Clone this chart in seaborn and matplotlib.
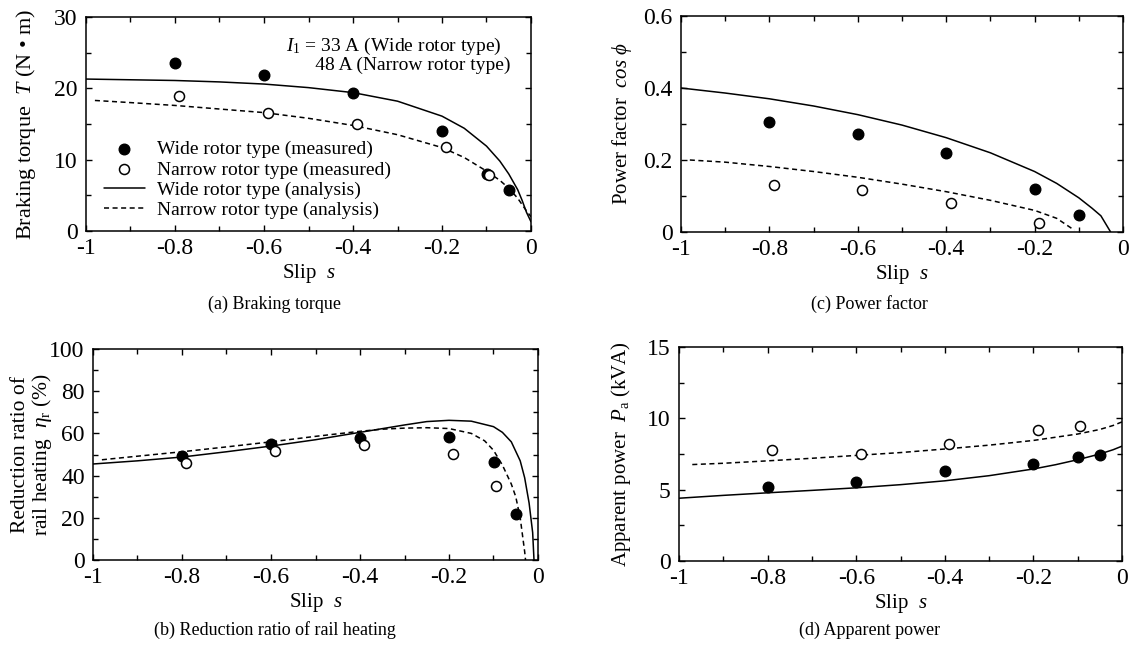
import matplotlib
matplotlib.use("Agg")
import matplotlib.pyplot as plt
import seaborn as sns
from matplotlib.ticker import MultipleLocator, FuncFormatter

# ---------------- data ----------------
# (a) Braking torque T (N·m)
a_wide_meas_s = [-0.8, -0.6, -0.4, -0.2, -0.1, -0.05]
a_wide_meas_T = [23.5, 21.8, 19.3, 14.0, 8.0, 5.8]
a_narrow_meas_s = [-0.79, -0.59, -0.39, -0.19, -0.095]
a_narrow_meas_T = [18.9, 16.6, 15.0, 11.8, 7.85]
a_wide_ana_s = [-1.0, -0.9, -0.8, -0.7, -0.6, -0.5, -0.4, -0.3, -0.2, -0.15, -0.1,
                -0.07, -0.05, -0.03, -0.02, -0.01, 0.0]
a_wide_ana_T = [21.3, 21.2, 21.1, 20.9, 20.6, 20.1, 19.4, 18.2, 16.1, 14.4, 11.9,
                9.8, 8.0, 5.8, 4.3, 2.6, 1.3]
a_narrow_ana_s = [-0.98, -0.9, -0.8, -0.7, -0.6, -0.5, -0.4, -0.3, -0.2, -0.15, -0.1,
                  -0.07, -0.05, -0.03, -0.01, 0.0]
a_narrow_ana_T = [18.3, 18.0, 17.6, 17.1, 16.6, 15.8, 14.8, 13.5, 11.7, 10.3, 8.4,
                  7.1, 6.0, 4.6, 2.8, 2.0]

# (b) Reduction ratio of rail heating (%)
b_wide_meas_s = [-0.8, -0.6, -0.4, -0.2, -0.1, -0.05]
b_wide_meas_eta = [49.1, 54.8, 57.9, 58.1, 46.4, 21.7]
b_narrow_meas_s = [-0.79, -0.59, -0.39, -0.19, -0.095]
b_narrow_meas_eta = [45.9, 51.7, 54.7, 50.2, 35.0]
b_wide_ana_s = [-1.0, -0.9, -0.8, -0.7, -0.6, -0.5, -0.4, -0.3, -0.25, -0.2, -0.15,
                -0.1, -0.08, -0.06, -0.04, -0.03, -0.02, -0.012, -0.009]
b_wide_ana_eta = [45.5, 47.0, 48.8, 51.3, 54.0, 57.0, 60.5, 64.0, 65.6, 66.2, 65.8,
                  63.2, 60.5, 56.0, 47.0, 39.0, 27.0, 13.0, 0.0]
b_narrow_ana_s = [-0.98, -0.9, -0.8, -0.7, -0.6, -0.5, -0.4, -0.35, -0.3, -0.25, -0.2,
                  -0.15, -0.12, -0.1, -0.08, -0.06, -0.05, -0.04, -0.035, -0.03, -0.028]
b_narrow_ana_eta = [47.5, 49.2, 51.3, 53.6, 56.0, 58.6, 61.0, 62.0, 62.5, 62.7, 62.3,
                    60.0, 56.5, 52.0, 45.0, 36.0, 30.0, 20.0, 12.0, 4.0, 0.0]

# (c) Power factor cos(phi)
c_wide_meas_s = [-0.8, -0.6, -0.4, -0.2, -0.1]
c_wide_meas_pf = [0.306, 0.271, 0.220, 0.119, 0.046]
c_narrow_meas_s = [-0.79, -0.59, -0.39, -0.19]
c_narrow_meas_pf = [0.131, 0.118, 0.081, 0.026]
c_wide_ana_s = [-1.0, -0.9, -0.8, -0.7, -0.6, -0.5, -0.4, -0.3, -0.2, -0.15, -0.1,
                -0.07, -0.05, -0.028]
c_wide_ana_pf = [0.400, 0.386, 0.370, 0.350, 0.326, 0.297, 0.262, 0.220, 0.168, 0.135,
                 0.095, 0.066, 0.045, 0.0]
c_narrow_ana_s = [-0.98, -0.9, -0.8, -0.7, -0.6, -0.5, -0.4, -0.3, -0.2, -0.15, -0.11]
c_narrow_ana_pf = [0.200, 0.194, 0.182, 0.168, 0.152, 0.133, 0.112, 0.088, 0.060, 0.038, 0.005]

# (d) Apparent power Pa (kVA)
d_wide_meas_s = [-0.8, -0.6, -0.4, -0.2, -0.1, -0.05]
d_wide_meas_P = [5.16, 5.51, 6.30, 6.78, 7.27, 7.43]
d_narrow_meas_s = [-0.79, -0.59, -0.39, -0.19, -0.095]
d_narrow_meas_P = [7.75, 7.52, 8.17, 9.19, 9.44]
d_wide_ana_s = [-1.0, -0.9, -0.8, -0.7, -0.6, -0.5, -0.4, -0.3, -0.2, -0.15, -0.1,
                -0.05, -0.02, 0.0]
d_wide_ana_P = [4.40, 4.60, 4.78, 4.95, 5.13, 5.35, 5.62, 5.98, 6.45, 6.75, 7.10,
                7.50, 7.80, 8.05]
d_narrow_ana_s = [-0.97, -0.9, -0.8, -0.7, -0.6, -0.5, -0.4, -0.3, -0.2, -0.1,
                  -0.05, -0.02, 0.0]
d_narrow_ana_P = [6.76, 6.85, 7.02, 7.20, 7.40, 7.60, 7.85, 8.12, 8.45, 8.90,
                  9.22, 9.50, 9.75]

legend_labels = ["Wide rotor type (measured)", "Narrow rotor type (measured)",
                 "Wide rotor type (analysis)", "Narrow rotor type (analysis)"]
captions = ["(a) Braking torque", "(b) Reduction ratio of rail heating",
            "(c) Power factor", "(d) Apparent power"]
condition_text = (r"$I_\mathrm{1}$ = 33 A (Wide rotor type)" + "\n"
                  + "      48 A (Narrow rotor type)")

# ---------------- style ----------------
sns.set_theme(style="ticks")
plt.rcParams.update({
    "font.family": ["Liberation Serif", "DejaVu Serif"],
    "mathtext.fontset": "custom",
    "mathtext.rm": "Liberation Serif",
    "mathtext.it": "Liberation Serif:italic",
    "mathtext.bf": "Liberation Serif:bold",
    "axes.unicode_minus": False,
    "axes.edgecolor": "black",
    "axes.linewidth": 1.1,
    "xtick.direction": "in", "ytick.direction": "in",
    "xtick.top": True, "ytick.right": True,
    "xtick.minor.visible": True, "ytick.minor.visible": True,
    "xtick.major.size": 4.5, "ytick.major.size": 4.5,
    "xtick.minor.size": 3.5, "ytick.minor.size": 3.5,
    "xtick.major.width": 1.0, "ytick.major.width": 1.0,
    "xtick.minor.width": 1.0, "ytick.minor.width": 1.0,
    "xtick.color": "black", "ytick.color": "black",
    "xtick.labelsize": 17, "ytick.labelsize": 17,
    "xtick.major.pad": 5, "ytick.major.pad": 6,
    "axes.labelsize": 15,
    "text.color": "black", "axes.labelcolor": "black",
})

fig = plt.figure(figsize=(11.3, 6.49), dpi=100)
W, H = 1130, 649


def add_ax(x0, y0, x1, y1):
    return fig.add_axes([x0 / W, 1 - y1 / H, (x1 - x0) / W, (y1 - y0) / H])


ax_a = add_ax(86, 17, 531, 231)
ax_c = add_ax(681, 16, 1123, 232)
ax_b = add_ax(93, 349, 538, 560)
ax_d = add_ax(679, 347, 1122, 561)

fmt = FuncFormatter(lambda v, p: "0" if abs(v) < 1e-9 else f"{v:g}")
dash = (0, (3.3, 2.3))


def draw(ax, ws, wy, ns, ny, was, way, nas, nay):
    sns.lineplot(x=was, y=way, ax=ax, color="black", linewidth=1.1, sort=False,
                 label=legend_labels[2], legend=False, zorder=2)
    sns.lineplot(x=nas, y=nay, ax=ax, color="black", linewidth=1.1, sort=False,
                 linestyle=dash, label=legend_labels[3], legend=False, zorder=2)
    sns.scatterplot(x=ws, y=wy, ax=ax, color="black", edgecolor="black", s=58,
                    linewidth=1.0, marker="o", label=legend_labels[0], legend=False,
                    zorder=3)
    sns.scatterplot(x=ns, y=ny, ax=ax, color="white", edgecolor="black", s=52,
                    linewidth=1.1, marker="o", label=legend_labels[1], legend=False,
                    zorder=3)
    ax.set_xlim(-1, 0)
    ax.xaxis.set_major_locator(MultipleLocator(0.2))
    ax.xaxis.set_minor_locator(MultipleLocator(0.1))
    ax.xaxis.set_major_formatter(fmt)
    ax.yaxis.set_major_formatter(fmt)
    ax.set_xlabel(r"Slip  $s$", labelpad=2)
    for sp in ax.spines.values():
        sp.set_visible(True)
        sp.set_color("black")


draw(ax_a, a_wide_meas_s, a_wide_meas_T, a_narrow_meas_s, a_narrow_meas_T,
     a_wide_ana_s, a_wide_ana_T, a_narrow_ana_s, a_narrow_ana_T)
ax_a.set_ylim(0, 30)
ax_a.yaxis.set_major_locator(MultipleLocator(10))
ax_a.yaxis.set_minor_locator(MultipleLocator(5))
ax_a.set_ylabel(r"Braking torque  $T$ (N • m)", fontsize=16)
ax_a.yaxis.set_label_coords(-0.108, 0.5)
ax_a.text(0.449, 0.822, condition_text, transform=ax_a.transAxes,
          fontsize=14, ha="left", va="center", linespacing=0.95)
handles, labels = ax_a.get_legend_handles_labels()
order = [labels.index(l) for l in legend_labels]
ax_a.legend([handles[i] for i in order], [labels[i] for i in order],
            loc="lower left", bbox_to_anchor=(0.04, 0.056), frameon=False,
            fontsize=14, handlelength=2.1, handletextpad=0.62, labelspacing=0.13,
            borderpad=0, borderaxespad=0)

draw(ax_b, b_wide_meas_s, b_wide_meas_eta, b_narrow_meas_s, b_narrow_meas_eta,
     b_wide_ana_s, b_wide_ana_eta, b_narrow_ana_s, b_narrow_ana_eta)
ax_b.set_ylim(0, 100)
ax_b.yaxis.set_major_locator(MultipleLocator(20))
ax_b.yaxis.set_minor_locator(MultipleLocator(10))
ax_b.set_ylabel("Reduction ratio of\n" + r"rail heating  $\eta_\mathrm{r}$ (%)",
                linespacing=1.0, multialignment="center", fontsize=15.5)
ax_b.yaxis.set_label_coords(-0.087, 0.5)

draw(ax_c, c_wide_meas_s, c_wide_meas_pf, c_narrow_meas_s, c_narrow_meas_pf,
     c_wide_ana_s, c_wide_ana_pf, c_narrow_ana_s, c_narrow_ana_pf)
ax_c.set_ylim(0, 0.6)
ax_c.yaxis.set_major_locator(MultipleLocator(0.2))
ax_c.yaxis.set_minor_locator(MultipleLocator(0.1))
ax_c.set_ylabel(r"Power factor  $cos\ \phi$")
ax_c.yaxis.set_label_coords(-0.107, 0.5)

draw(ax_d, d_wide_meas_s, d_wide_meas_P, d_narrow_meas_s, d_narrow_meas_P,
     d_wide_ana_s, d_wide_ana_P, d_narrow_ana_s, d_narrow_ana_P)
ax_d.set_ylim(0, 15)
ax_d.yaxis.set_major_locator(MultipleLocator(5))
ax_d.yaxis.set_minor_locator(MultipleLocator(2.5))
ax_d.set_ylabel(r"Apparent power  $P_\mathrm{a}$ (kVA)")
ax_d.yaxis.set_label_coords(-0.1035, 0.5)

cap_pos = [(275, 304), (275, 630), (869, 304), (870, 630)]
for (cx, cy), txt in zip(cap_pos, captions):
    fig.text(cx / W, 1 - cy / H, txt, fontsize=13, ha="center", va="center")

fig.savefig("out.png", dpi=100, facecolor="white")
